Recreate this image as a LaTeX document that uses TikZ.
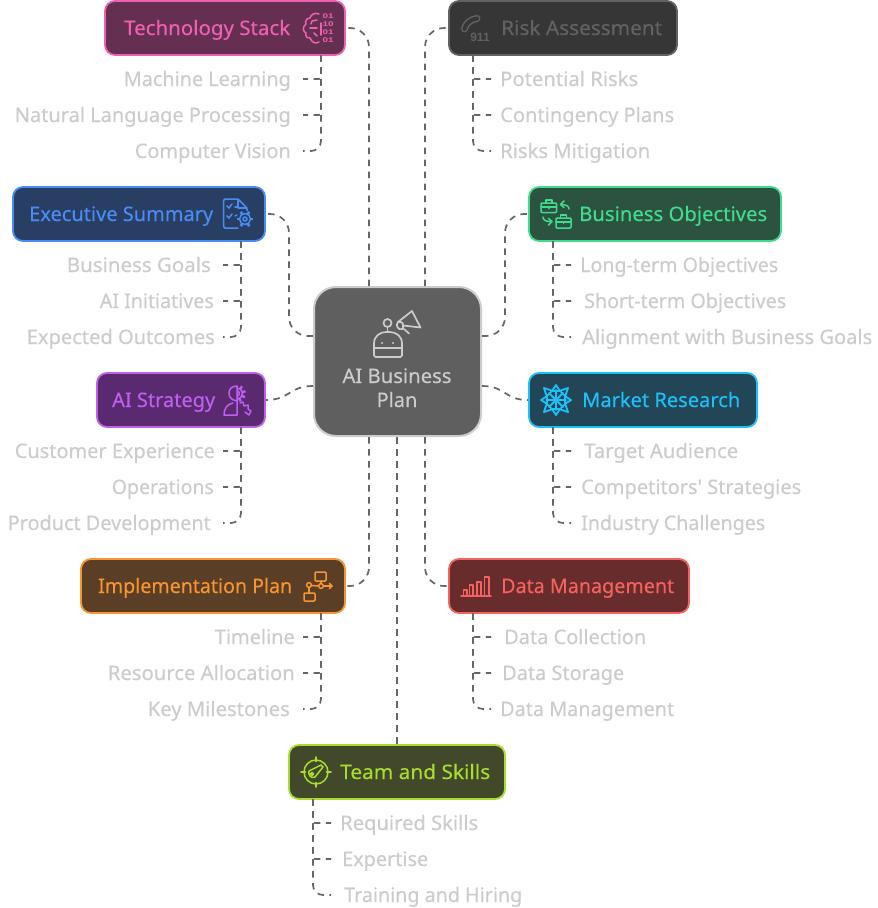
\documentclass[tikz,border=0pt]{standalone}
\usepackage{fontspec}
\setmainfont{Noto Sans}[FakeBold=0.2]
\newfontfamily\plainfont{Noto Sans}[FakeBold=0.2]
\newfontfamily\digitfont{Liberation Sans}[BoldFont={Liberation Sans Bold}]
\usetikzlibrary{calc}
\definecolor{conn}{HTML}{666666}
\definecolor{kidtext}{HTML}{CCCCCC}
\definecolor{rootfill}{HTML}{5F5F5F}
\definecolor{techf}{HTML}{652F52}\definecolor{techs}{HTML}{EE60B2}
\definecolor{execf}{HTML}{283E63}\definecolor{execs}{HTML}{4A8CF5}
\definecolor{stratf}{HTML}{5A2A70}\definecolor{strats}{HTML}{BE5FEE}
\definecolor{implf}{HTML}{5A3F26}\definecolor{impls}{HTML}{F89530}
\definecolor{teamf}{HTML}{41492A}\definecolor{teams}{HTML}{A8DC2E}
\definecolor{riskf}{HTML}{363636}\definecolor{risks}{HTML}{626262}
\definecolor{bizf}{HTML}{2C5340}\definecolor{bizs}{HTML}{3FDC90}
\definecolor{markf}{HTML}{234656}\definecolor{marks}{HTML}{1CC0FA}
\definecolor{dataf}{HTML}{682C2C}\definecolor{datas}{HTML}{F6625E}
\tikzset{
  x=1pt,y=-1pt,
  connline/.style={draw=conn,line width=1.7pt,dash pattern=on 6.5pt off 5.5pt},
  mainlink/.style={connline,rounded corners=19pt},
  boxnode/.style={rectangle,rounded corners=10pt,line width=1.8pt,inner sep=0pt},
  kidlabel/.style={text=kidtext,font=\fontsize{20}{24}\selectfont,inner sep=0pt},
  boxlabel/.style={font=\fontsize{20}{24}\selectfont,inner sep=0pt},
  ic/.style={line width=1.5pt,line cap=round,line join=round},
  bitlabel/.style={inner sep=0pt,text=techs,font=\digitfont\bfseries\fontsize{6.8}{8}\selectfont},
}
% fit a label to the width it has in the reference
\newcommand{\fit}[2]{\resizebox{#1pt}{\height}{#2}}
% name, x1, y1, x2, y2, colour stem
\newcommand{\bx}[6]{\node[boxnode,fill=#6f,draw=#6s,minimum width=#4pt-#2pt,minimum height=#5pt-#3pt] (#1) at ({(#2+#4)/2},{(#3+#5)/2}) {};}
% name, anchor, x, y, width, text
\newcommand{\kid}[6]{\node[kidlabel,anchor=base #2] (#1) at (#3,#4+7) {\fit{#5}{#6}};}
% name, colour, x, baseline, width, text
\newcommand{\blab}[6]{\node[boxlabel,text=#2,anchor=base west] (#1) at (#3,#4) {\fit{#5}{#6}};}
\begin{document}
\begin{tikzpicture}
\useasboundingbox[fill=white] (0,0) rectangle (878,908);
% Root
\node[rectangle,rounded corners=22pt,fill=rootfill,draw=kidtext,line width=2pt,minimum width=167pt,minimum height=149pt,inner sep=0pt] (root) at (397.5,361.5) {};
\node[inner sep=0pt,text=kidtext,font=\fontsize{20}{24}\selectfont,anchor=base] (rootA) at (397,383) {\fit{109}{AI Business}};
\node[inner sep=0pt,text=kidtext,font=\fontsize{20}{24}\selectfont,anchor=base] (rootB) at (397,407) {Plan};
\coordinate (rL1) at (313,336); \coordinate (rL2) at (313,386);
\coordinate (rR1) at (482,336); \coordinate (rR2) at (482,386);
\coordinate (rT1) at (369,286); \coordinate (rT2) at (425,286);
\coordinate (rB1) at (369,437); \coordinate (rB2) at (397,437); \coordinate (rB3) at (425,437);
% Boxes
\bx{tech}{105}{1}{345}{55}{tech}
\bx{exec}{13}{187}{265}{241}{exec}
\bx{strat}{97}{373}{265}{427}{strat}
\bx{impl}{81}{559}{345}{613}{impl}
\bx{team}{289}{745}{505}{799}{team}
\bx{risk}{449}{1}{677}{55}{risk}
\bx{biz}{529}{187}{781}{241}{biz}
\bx{mark}{529}{373}{757}{427}{mark}
\bx{data}{449}{559}{689}{613}{data}
% Box labels
\blab{techT}{techs}{124}{35}{166}{Technology Stack}
\blab{execT}{execs}{29}{221}{184}{Executive Summary}
\blab{stratT}{strats}{112}{407}{103}{AI Strategy}
\blab{implT}{impls}{98}{593}{194}{Implementation Plan}
\blab{teamT}{teams}{340}{779}{150}{Team and Skills}
\blab{riskT}{risks}{501}{35}{161}{Risk Assessment}
\blab{bizT}{bizs}{579}{221}{188}{Business Objectives}
\blab{markT}{marks}{582}{407}{158}{Market Research}
\blab{dataT}{datas}{501}{593}{173}{Data Management}
% Main connectors, drawn outward from the root
\draw[mainlink] (rT1) |- (tech.east);
\draw[mainlink] (rT2) |- (risk.west);
\draw[mainlink] (rL1) -| ([xshift=-24pt]rL1 |- exec.east) -- (exec.east);
\draw[mainlink] (rR1) -| ([xshift=23pt]rR1 |- biz.west) -- (biz.west);
\draw[connline] (rL2) .. controls +(-24,0) and ($(strat.east)+(24,0)$) .. (strat.east);
\draw[connline] (rR2) .. controls +(24,0) and ($(mark.west)+(-24,0)$) .. (mark.west);
\draw[mainlink] (rB1) |- (impl.east);
\draw[mainlink] (rB3) |- (data.west);
\draw[connline] (rB2) -- (team.north -| rB2);
% Children
\coordinate (techB) at (321,55); \coordinate (execB) at (241,241); \coordinate (stratB) at (241,427); \coordinate (implB) at (321,613);
\coordinate (teamB) at (313,799); \coordinate (riskB) at (473,55); \coordinate (bizB) at (553,241); \coordinate (markB) at (553,427); \coordinate (dataB) at (473,613);
\kid{k1a}{east}{291}{79}{167}{Machine Learning}
\kid{k1b}{east}{291}{115}{276}{Natural Language Processing}
\kid{k1c}{east}{291}{151}{156}{Computer Vision}
\kid{k2a}{east}{211}{265}{144}{Business Goals}
\kid{k2b}{east}{214}{301}{114}{AI Initiatives}
\kid{k2c}{east}{215}{337}{188}{Expected Outcomes}
\kid{k3a}{east}{215}{451}{200}{Customer Experience}
\kid{k3b}{east}{214}{487}{102}{Operations}
\kid{k3c}{east}{211}{523}{203}{Product Development}
\kid{k4a}{east}{295}{637}{80}{Timeline}
\kid{k4b}{east}{295}{673}{187}{Resource Allocation}
\kid{k4c}{east}{290}{709}{142}{Key Milestones}
\kid{k5a}{west}{340}{823}{138}{Required Skills}
\kid{k5b}{west}{342}{859}{86}{Expertise}
\kid{k5c}{west}{344}{895}{178}{Training and Hiring}
\kid{k6a}{west}{500}{79}{138}{Potential Risks}
\kid{k6b}{west}{500}{115}{174}{Contingency Plans}
\kid{k6c}{west}{500}{151}{150}{Risks Mitigation}
\kid{k7a}{west}{580}{265}{198}{Long-term Objectives}
\kid{k7b}{west}{584}{301}{202}{Short-term Objectives}
\kid{k7c}{west}{582}{337}{290}{Alignment with Business Goals}
\kid{k8a}{west}{584}{451}{154}{Target Audience}
\kid{k8b}{west}{581}{487}{220}{{\plainfont Competitors' Strategies}}
\kid{k8c}{west}{581}{523}{184}{Industry Challenges}
\kid{k9a}{west}{504}{637}{142}{Data Collection}
\kid{k9b}{west}{502}{673}{122}{Data Storage}
\kid{k9c}{west}{500}{709}{174}{Data Management}
% branch connectors
\foreach \b/\y/\e/\r in {techB/79/303/2,techB/115/303/2,techB/151/303/10,
  execB/265/223/2,execB/301/223/2,execB/337/223/10,
  stratB/451/223/2,stratB/487/223/2,stratB/523/223/10,
  implB/637/303/2,implB/673/303/2,implB/709/303/10,
  teamB/823/331/2,teamB/859/331/2,teamB/895/331/10,
  riskB/79/491/2,riskB/115/491/2,riskB/151/491/10,
  bizB/265/571/2,bizB/301/571/2,bizB/337/571/10,
  markB/451/571/2,markB/487/571/2,markB/523/571/10,
  dataB/637/491/2,dataB/673/491/2,dataB/709/491/10}{
  \coordinate (end) at (\e,\y);
  \draw[connline,rounded corners=\r pt] (\b) |- (end);
}
% ---- Icons ----
% Technology: brain and bits
\begin{scope}[ic,draw=techs]
\draw (319,14) .. controls (314,12) and (311,15) .. (310,18) .. controls (306,18) and (305,22) .. (306,24) .. controls (302,27) and (303,32) .. (306,33) .. controls (305,37) and (308,39) .. (310,38) .. controls (312,43) and (316,44) .. (319,42);
\draw (317,20) -- (312,21) -- (311,24);
\draw (317,28) -- (310,28);
\draw (317,36) -- (314,33);
\draw (321,23) -- (321,35);
\end{scope}
\node[bitlabel] (bita) at (328,16) {\fit{11}{01}};
\node[bitlabel] (bitb) at (328,24) {\fit{11}{10}};
\node[bitlabel] (bitc) at (328,32) {\fit{11}{01}};
\node[bitlabel] (bitd) at (328,40) {\fit{11}{01}};
% Executive: document with gear
\begin{scope}[ic,draw=execs]
\draw[rounded corners=1.5pt] (238,228) -- (223.5,228) -- (223.5,199) -- (238,199) -- (247,208) -- (247,211);
\draw (238,199) -- (238,208) -- (247,208);
\draw (227,206) -- (229,208) -- (232,204); \draw (235,207) -- (238,207);
\draw (227,216) -- (229,218) -- (232,214); \draw (235,216) -- (237,215);
\fill[execf] (245,219) circle (8);
\draw (245,219) circle (5.5); \draw (245,219) circle (2);
\foreach \a in {0,60,...,300}{\draw[line width=2.6pt,line cap=butt] ([shift={(245,219)}]\a:5.5) -- ([shift={(245,219)}]\a:8.4);}
\end{scope}
% AI Strategy
\begin{scope}[ic,draw=strats]
\draw (237,386) .. controls (231,386) and (229,390) .. (229,393) .. controls (229,397) and (231,400) .. (237,401);
\draw (237,386) -- (237,415) -- (224,415) .. controls (224,409) and (227,404) .. (233,403);
\draw (237,388) arc (-90:90:5.5);
\draw (237,391) arc (-90:90:2.5);
\foreach \a in {-55,-15,25,65}{\draw[line width=2.4pt,line cap=butt] ([shift={(237,393.5)}]\a:5.5) -- ([shift={(237,393.5)}]\a:8.8);}
\draw (240,403) -- (243,402) -- (244,406) -- (248,405) -- (248,409) -- (251,411) -- (249,415) -- (245,412);
\end{scope}
% Implementation
\begin{scope}[ic,draw=impls]
\draw[rounded corners=1pt] (315,572) rectangle (326,581);
\draw[rounded corners=1pt] (304,593) rectangle (315,601);
\draw (309,585) circle (2.4); \draw (321,586) circle (2.4);
\draw (311.4,585.5) -- (318.6,586); \draw (323.4,586) -- (332,586); \draw (329.5,583.5) -- (332,586) -- (329.5,588.5);
\draw (321,581) -- (321,583.6); \draw (309,587.4) -- (309,593);
\end{scope}
% Team
\begin{scope}[ic,draw=teams]
\draw (316,772) circle (12);
\foreach \a in {0,90,180,270}{\draw ([shift={(316,772)}]\a:10.5) -- ([shift={(316,772)}]\a:15);}
\draw (312,774) circle (1.5);
\draw (309,771) .. controls (308,775) and (311,779) .. (315,777) -- (323,767) -- (321,765) -- cycle;
\end{scope}
% Risk: handset and 911
\draw[line width=7pt,draw=risks,line cap=round] (464.5,29) .. controls (465,24) and (471,19) .. (477,18.5);
\draw[line width=4pt,draw=riskf,line cap=round] (464.5,29) .. controls (465,24) and (471,19) .. (477,18.5);
\node[inner sep=0pt,text=risks,font=\digitfont\bfseries\fontsize{12}{12}\selectfont] (n911) at (480,37) {911};
% Business objectives
\begin{scope}[ic,draw=bizs]
\draw[rounded corners=1pt] (541,203) rectangle (556.5,212.5);
\draw (546,203) -- (546,200) -- (552,200) -- (552,203);
\draw (541,207) -- (556.5,207); \draw (549,206.5) -- (549,208.5);
\draw[rounded corners=1pt] (556,218) rectangle (571,228);
\draw (560.5,218) -- (560.5,215) -- (566.5,215) -- (566.5,218);
\draw (556,222) -- (571,222); \draw (563.5,221.5) -- (563.5,223.5);
\draw (569,209) .. controls (569,206) and (566,204.5) .. (561,204.5);
\draw (564,201) -- (560.5,204.5) -- (564,207.5);
\draw (543,217) .. controls (543,220) and (546,222) .. (551.5,221.5);
\draw (548.5,218.5) -- (552,221.5) -- (548.5,225);
\end{scope}
% Market: eight-point star
\begin{scope}[ic,draw=marks,line width=1.8pt]
\foreach \a/\r in {0/15,45/17,90/15,135/17,180/15,225/17,270/15,315/17}{
  \pgfmathsetmacro{\rn}{\r==15 ? 17 : 15}
  \draw ([shift={(556,400)}]\a:\r) -- ([shift={(556,400)}]\a+22.5:10) -- ([shift={(556,400)}]\a+45:\rn);
  \draw ([shift={(556,400)}]\a:2.5) -- ([shift={(556,400)}]\a:10);
  \draw ([shift={(556,400)}]\a+22.5:10) -- ([shift={(556,400)}]\a+67.5:10);
}
\fill[marks] (556,400) circle (2.4);
\end{scope}
% Data: bars
\begin{scope}[ic,draw=datas]
\draw (461,596) -- (491,596);
\draw (463.5,596) -- (463.5,590) -- (467,590) -- (467,596);
\draw (469.5,596) -- (469.5,585) -- (473,585) -- (473,596);
\draw (477,596) -- (477,582) -- (481,582) -- (481,596);
\draw (484.5,596) -- (484.5,577) -- (489,577) -- (489,596);
\end{scope}
% Root: robot with megaphone
\begin{scope}[ic,draw=kidtext,line width=1.7pt]
\draw[rounded corners=1.5pt] (374,357) -- (374,345) .. controls (374,336) and (380,332) .. (388,332) .. controls (396,332) and (402,336) .. (402,345) -- (402,357) -- cycle;
\draw (374,348) -- (402,348);
\fill[kidtext] (382,343) circle (1.1); \fill[kidtext] (393,343) circle (1.1);
\draw (387.5,323) circle (4); \draw (387.5,327) -- (387.5,332);
\draw (412,311) -- (420.5,327.5) -- (403,325.5);
\draw (412,311) -- (398,322) .. controls (395,325) and (398,331) .. (403,329) -- (403,325.5);
\draw (398,322) .. controls (402,321) and (404,324) .. (403,327);
\draw (404,329) -- (409,333.5);
\end{scope}
\end{tikzpicture}
\end{document}
